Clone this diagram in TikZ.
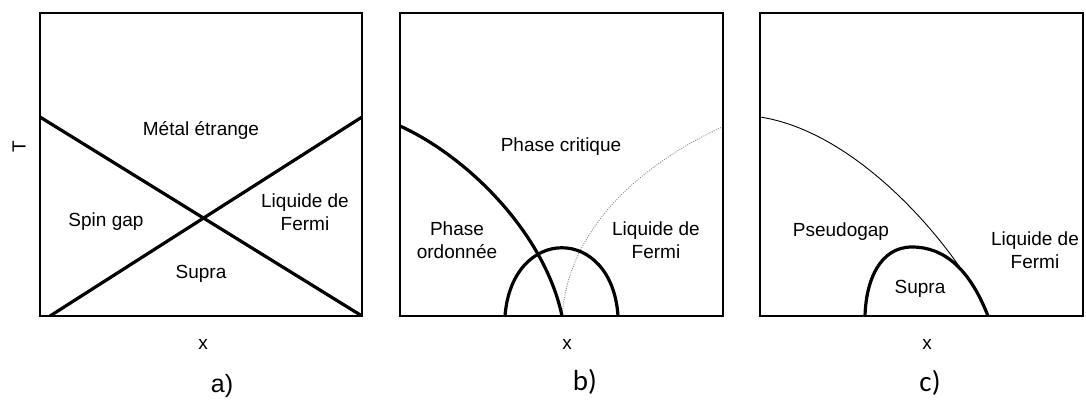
\documentclass[tikz,border=0pt]{standalone}
\usepackage{fontspec}
\setmainfont{Liberation Sans}
\newfontfamily\calfnt{Carlito}
\begin{document}
\begin{tikzpicture}[x=1pt,y=-1pt,
  lbl/.style={inner sep=0pt,anchor=base,align=center,font=\fontsize{19}{22.5}\selectfont},
  panellbl/.style={inner sep=0pt,anchor=base,font=\fontsize{25}{28}\selectfont},
  panellblb/.style={inner sep=0pt,anchor=base,font=\calfnt\fontsize{29}{32}\selectfont},
  frame/.style={draw=black,line width=1.1pt},
  thick line/.style={line width=3.2pt,line cap=butt},
  thin line/.style={line width=0.9pt},
  dot line/.style={line width=0.9pt,gray,dash pattern=on 0.9pt off 1.4pt}]
\useasboundingbox (0,0) rectangle (1086,399);
% ---------- panel a ----------
\coordinate (aTL) at (40,13);
\coordinate (aBR) at (362,316);
\coordinate (aL) at (40,117);
\coordinate (aR) at (362,117);
\coordinate (aBL) at (50,316);
\begin{scope}
\clip (aTL) rectangle (aBR);
\draw[thick line] (aL) -- (aBR);
\draw[thick line] (aBL) -- (aR);
\end{scope}
\draw[frame] (aTL) rectangle (aBR);
\node[lbl] (ametal) at (201,135) {Métal étrange};
\node[lbl] (aspin) at (106,226) {Spin gap};
\node[lbl] (aliq) at (305,230) {Liquide de\\Fermi};
\node[lbl] (asupra) at (201,278) {Supra};
\node[lbl] (ax) at (203,349) {x};
\node[lbl,rotate=90,anchor=center] (aT) at (19,147) {T};
\node[panellbl] (alab) at (222,392) {a)};
% ---------- panel b ----------
\coordinate (bTL) at (400,13);
\coordinate (bBR) at (723,316);
\coordinate (bOrdS) at (400,126);
\coordinate (bOrdE) at (562,316);
\coordinate (bDomeL) at (505,316);
\coordinate (bDomeR) at (618,316);
\coordinate (bDotE) at (722,127);
\begin{scope}
\clip (bTL) rectangle (bBR);
\draw[dot line] (bOrdE) .. controls (568,235) and (630,170) .. (bDotE);
\draw[thick line] (bOrdS) .. controls (470,158) and (545,235) .. (bOrdE);
\draw[thick line] (bDomeL) .. controls (512,225) and (612,225) .. (bDomeR);
\end{scope}
\draw[frame] (bTL) rectangle (bBR);
\node[lbl] (bcrit) at (561,151) {Phase critique};
\node[lbl] (bord) at (457,258) {Phase\\ordonnée};
\node[lbl] (bliq) at (656,258) {Liquide de\\Fermi};
\node[lbl] (bx) at (567,349) {x};
\node[panellblb] (blab) at (585,390) {b)};
% ---------- panel c ----------
\coordinate (cTL) at (760,13);
\coordinate (cBR) at (1083,316);
\coordinate (cPgS) at (760,117);
\coordinate (cDomeL) at (865,316);
\coordinate (cTop) at (912,247);
\coordinate (cDomeR) at (988,316);
\coordinate (cJoin) at (963,272);
\begin{scope}
\clip (cTL) rectangle (cBR);
\draw[thin line] (cPgS) .. controls (845,130) and (925,215) .. (cJoin);
\draw[thick line] (cDomeL) .. controls (866,280) and (880,247) .. (cTop)
   .. controls (945,247) and (970,270) .. (cDomeR);
\end{scope}
\draw[frame] (cTL) rectangle (cBR);
\node[lbl] (cpseudo) at (841,236) {Pseudogap};
\node[lbl] (csupra) at (920,293) {Supra};
\node[lbl] (cliq) at (1035,268) {Liquide de\\Fermi};
\node[lbl] (cx) at (927,349) {x};
\node[panellblb] (clab) at (930,391) {c)};
\end{tikzpicture}
\end{document}
